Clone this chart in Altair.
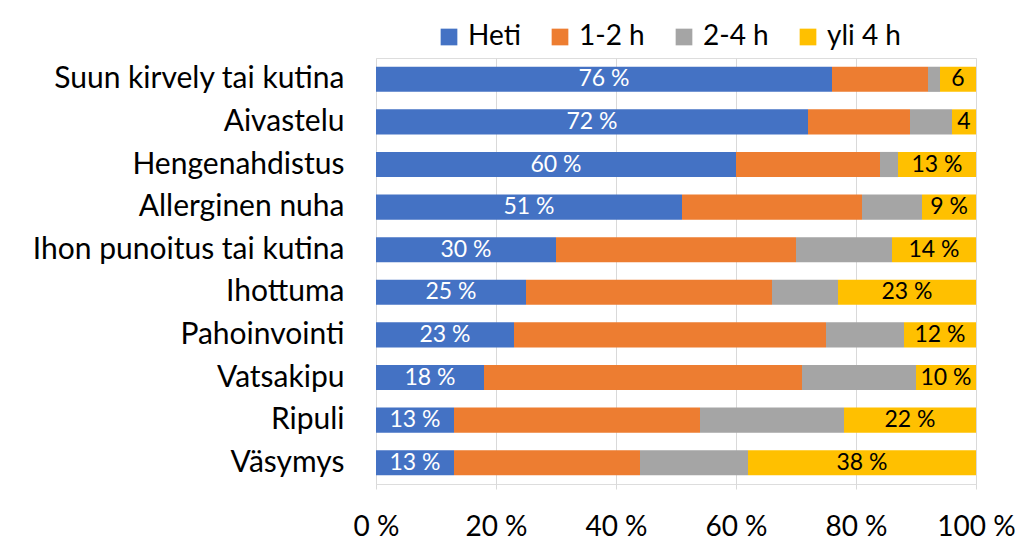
import altair as alt
import pandas as pd

categories = ["Suun kirvely tai kutina", "Aivastelu", "Hengenahdistus", "Allerginen nuha",
              "Ihon punoitus tai kutina", "Ihottuma", "Pahoinvointi", "Vatsakipu", "Ripuli", "Väsymys"]
series = ["Heti", "1-2 h", "2-4 h", "yli 4 h"]
heti = [76, 72, 60, 51, 30, 25, 23, 18, 13, 13]
h1_2 = [16, 17, 24, 30, 40, 41, 52, 53, 41, 31]
h2_4 = [2, 7, 3, 10, 16, 11, 13, 19, 24, 18]
yli4 = [6, 4, 13, 9, 14, 23, 12, 10, 22, 38]
heti_labels = ["76 %", "72 %", "60 %", "51 %", "30 %", "25 %", "23 %", "18 %", "13 %", "13 %"]
yli4_labels = ["6", "4", "13 %", "9 %", "14 %", "23 %", "12 %", "10 %", "22 %", "38 %"]
colors = ["#4472C4", "#ED7D31", "#A5A5A5", "#FFC000"]
x_ticks = [0, 20, 40, 60, 80, 100]

rows = []
for i, c in enumerate(categories):
    for j, (s, vals) in enumerate(zip(series, [heti, h1_2, h2_4, yli4])):
        lab = ""
        if j == 0:
            lab = heti_labels[i]
        elif j == 3:
            lab = yli4_labels[i]
        rows.append({"cat": c, "series": s, "value": vals[i], "order": j, "label": lab})
df = pd.DataFrame(rows)

FONT = "Lato"

base = alt.Chart(df).transform_stack(
    stack="value", groupby=["cat"], as_=["x0", "x1"], sort=[alt.SortField("order")]
).transform_calculate(mid="(datum.x0 + datum.x1) / 2")

y_enc = alt.Y("cat:N", sort=categories, title=None,
              scale=alt.Scale(paddingInner=0.41, paddingOuter=0.205),
              axis=alt.Axis(ticks=False, domain=False, labelFontSize=30, labelFont=FONT,
                            labelColor="#000000", labelPadding=32, labelLimit=400))

bars = base.mark_bar().encode(
    x=alt.X("x0:Q", title=None, scale=alt.Scale(domain=[0, 100], nice=False),
            axis=alt.Axis(values=x_ticks, labelExpr="datum.value + ' %'", domain=False,
                          tickColor="#D9D9D9", tickSize=5, grid=True, gridColor="#D9D9D9",
                          labelFontSize=28, labelFont=FONT, labelColor="#000000",
                          labelPadding=24, labelFlush=False)),
    x2="x1:Q",
    y=y_enc,
    color=alt.Color("series:N", sort=series,
                    scale=alt.Scale(domain=series, range=colors),
                    legend=alt.Legend(title=None, orient="none", direction="horizontal",
                                      legendX=59, legendY=-35, symbolType="square",
                                      symbolSize=279, symbolStrokeWidth=0,
                                      labelFontSize=28, labelFont=FONT, labelColor="#000000",
                                      labelOffset=5, columnPadding=25)),
    order=alt.Order("order:Q"),
)

txt_white = base.transform_filter("datum.order == 0").mark_text(
    fontSize=23, font=FONT, color="white").encode(
    x="mid:Q", y=alt.Y("cat:N", sort=categories), text="label:N")
txt_black = base.transform_filter("datum.order == 3").mark_text(
    fontSize=23, font=FONT, color="black").encode(
    x="mid:Q", y=alt.Y("cat:N", sort=categories), text="label:N")

chart = alt.layer(bars, txt_white, txt_black).properties(
    width=600, height=426,
    autosize=alt.AutoSizeParams(type="none"),
    padding={"left": 368, "top": 50, "right": 39, "bottom": 58},
).configure_view(stroke=None).configure(background="white")

chart.save("out.html", embed_options={"renderer": "svg", "actions": False})
